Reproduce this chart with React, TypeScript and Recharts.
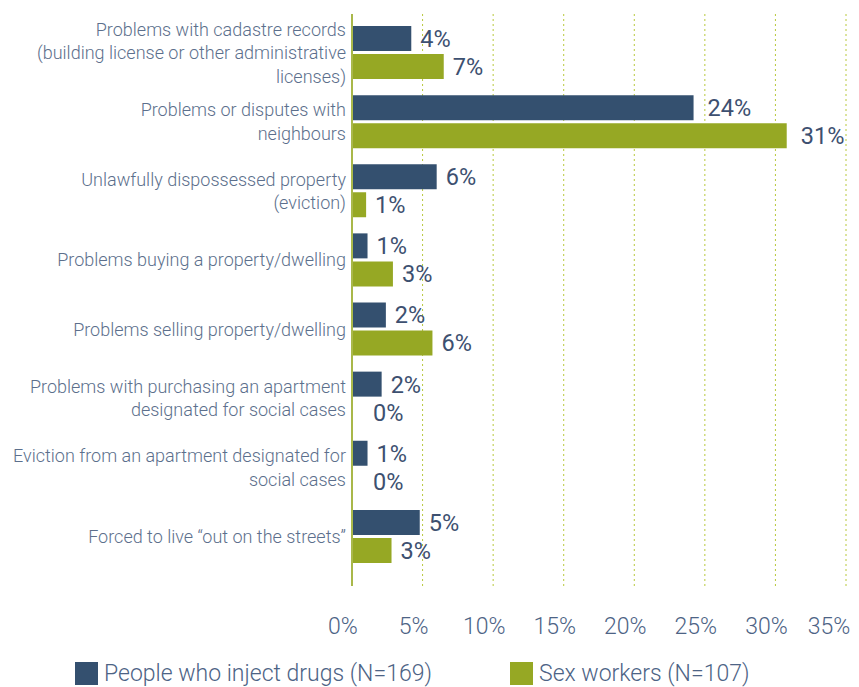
import { BarChart, Bar, XAxis, YAxis, CartesianGrid, LabelList } from "recharts";

const categories = [
  "Problems with cadastre records\n(building license or other administrative\nlicenses)",
  "Problems or disputes with\nneighbours",
  "Unlawfully dispossessed property\n(eviction)",
  "Problems buying a property/dwelling",
  "Problems selling property/dwelling",
  "Problems with purchasing an apartment\ndesignated for social cases",
  "Eviction from an apartment designated for\nsocial cases",
  "Forced to live \u201cout on the streets\u201d",
];

const peopleWhoInjectDrugs = [4.2, 24.2, 6.0, 1.1, 2.4, 2.1, 1.1, 4.8];
const sexWorkers = [6.5, 30.8, 1.0, 2.9, 5.7, 0, 0, 2.8];

const xTicks = [0, 5, 10, 15, 20, 25, 30, 35];

const seriesNames = ["People who inject drugs (N=169)", "Sex workers (N=107)"];

const DARK = "#34506f";
const GREEN = "#96a824";
const FONT = "Roboto, 'Open Sans', sans-serif";

const data = categories.map((name, i) => ({
  name,
  pwid: peopleWhoInjectDrugs[i],
  sw: sexWorkers[i],
}));

function CategoryTick(props: any) {
  const { x, y, payload } = props;
  const lines = String(payload.value).split("\n");
  const lh = 23.5;
  const y0 = y - ((lines.length - 1) * lh) / 2;
  return (
    <text
      x={x}
      y={y0}
      textAnchor="end"
      fill="#5c6f8c"
      fontSize={18}
      fontWeight={300}
      fontFamily={FONT}
    >
      {lines.map((l, i) => (
        <tspan key={i} x={x} y={y0 + i * lh} dy="0.36em">
          {l}
        </tspan>
      ))}
    </text>
  );
}

function ValueLabel(props: any) {
  const { x, y, width, height, value } = props;
  const v = Number(value);
  const tx = v === 0 ? x + 21 : x + width + (v >= 10 ? 14 : 9);
  return (
    <text
      x={tx}
      y={y + height / 2}
      dy="0.36em"
      fill="#3d5070"
      fontSize={23.5}
      fontFamily={FONT}
    >
      {Math.round(v)}%
    </text>
  );
}

export default function App() {
  return (
    <div style={{ position: "absolute", left: 0, top: 0, width: 859, height: 687, background: "#fff" }}>
      <BarChart
        width={859}
        height={640}
        data={data}
        layout="vertical"
        margin={{ top: 14, right: 13, bottom: 0, left: 0 }}
        barSize={25}
        barGap={3}
      >
        <CartesianGrid horizontal={false} stroke="#b8c83c" strokeDasharray="2 3" />
        <XAxis
          type="number"
          domain={[0, 35]}
          ticks={xTicks}
          tickFormatter={(v: number) => `${v}%`}
          axisLine={false}
          tickLine={false}
          height={54}
          tickMargin={26}
          dx={-9}
          tick={{ fill: "#4d6385", fontSize: 23, fontFamily: FONT, fontWeight: 300 }}
        />
        <YAxis
          type="category"
          dataKey="name"
          width={352}
          axisLine={{ stroke: "#a9b84a", strokeWidth: 2 }}
          tickLine={false}
          tickSize={0}
          tickMargin={6}
          tick={<CategoryTick />}
          padding={{ top: 4, bottom: 15 }}
          interval={0}
        />
        <Bar dataKey="pwid" name={seriesNames[0]} fill={DARK} isAnimationActive={false}>
          <LabelList dataKey="pwid" content={<ValueLabel />} />
        </Bar>
        <Bar
          dataKey="sw"
          name={seriesNames[1]}
          fill={GREEN}
          isAnimationActive={false}
          minPointSize={(v: number) => (v === 0 ? 0.01 : 0)}
        >
          <LabelList dataKey="sw" content={<ValueLabel />} />
        </Bar>
      </BarChart>
      <div style={{ position: "absolute", top: 660, left: 0, width: 859, height: 27, fontFamily: FONT }}>
        {[DARK, GREEN].map((c, i) => (
          <div
            key={i}
            style={{ position: "absolute", left: i === 0 ? 75 : 510, top: 2, display: "flex", alignItems: "center" }}
          >
            <div style={{ width: 23, height: 23, background: c, marginRight: 6 }} />
            <span style={{ fontSize: 23, fontWeight: 300, color: "#4d6385", lineHeight: "23px" }}>
              {seriesNames[i]}
            </span>
          </div>
        ))}
      </div>
    </div>
  );
}
